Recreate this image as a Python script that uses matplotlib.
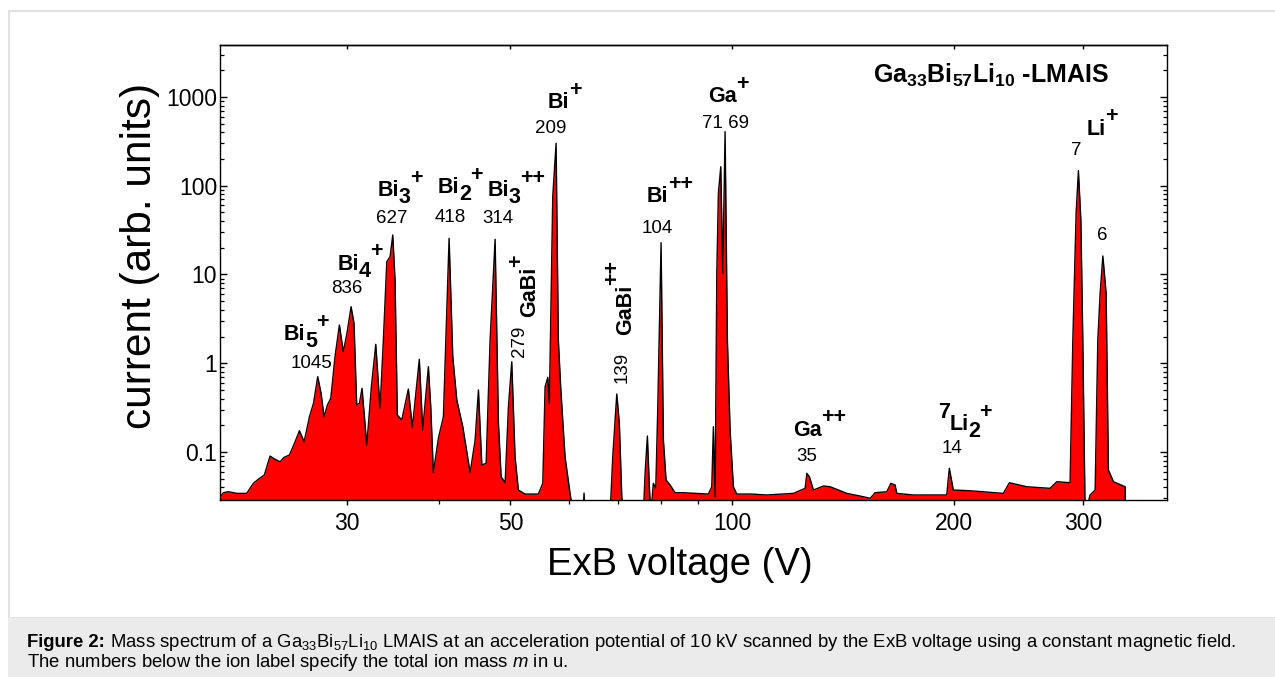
import matplotlib
matplotlib.use('Agg')
import matplotlib.pyplot as plt
from matplotlib.ticker import FixedLocator, FixedFormatter, NullFormatter, LogLocator, NullLocator
from matplotlib.patches import Rectangle
from matplotlib.transforms import ScaledTranslation

plt.rcParams['font.family'] = ['Liberation Sans', 'DejaVu Sans']
plt.rcParams['mathtext.fontset'] = 'custom'
plt.rcParams['mathtext.rm'] = 'Liberation Sans'
plt.rcParams['mathtext.it'] = 'Liberation Sans:italic'
plt.rcParams['mathtext.bf'] = 'Liberation Sans:bold'

# ---------------- data ----------------
voltage = [20.16, 20.37, 20.69, 21.25, 21.92, 22.38, 22.73, 23.16, 23.58, 23.95,
           24.33, 24.64, 25.05, 25.50, 25.85, 26.23, 26.67, 27.01, 27.37, 27.66,
           27.92, 28.21, 28.51, 28.89, 29.29, 29.65, 29.99, 30.38, 30.66, 30.92,
           31.18, 31.44, 31.91, 32.37, 32.82, 33.26, 33.61, 33.97, 34.32, 34.61,
           34.86, 35.11, 35.60, 36.34, 36.80, 37.61, 38.01, 38.69, 38.98, 39.30,
           39.92, 40.55, 41.28, 41.76, 42.29, 43.09, 44.09, 44.78, 45.25, 45.73,
           46.35, 46.93, 47.67, 48.17, 48.58, 49.19, 49.70, 50.22, 50.74, 51.27,
           52.36, 54.58, 55.34, 55.74, 56.21, 56.49, 57.09, 57.69, 58.10, 58.54,
           59.33, 60.27, 60.89, 62.76, 62.96, 63.16, 68.31, 68.88, 69.75, 70.32,
           70.85, 71.21, 75.81, 76.21, 76.76, 77.24, 77.58, 78.21, 78.80, 79.30,
           80.12, 80.70, 81.38, 82.41, 83.71, 85.91, 89.59, 92.90, 93.89, 94.36,
           94.87, 95.38, 95.85, 96.57, 97.18, 97.88, 98.59, 99.43, 100.46, 101.53,
           106.41, 111.52, 121.22, 125.73, 126.40, 127.44, 129.04, 133.15, 135.97, 143.27,
           149.36, 154.1, 156.5, 162.35, 164.4, 166.6, 167.5, 176.4, 195.8, 197.4,
           199.9, 210.6, 233.8, 238.2, 251.6, 270.5, 276.3, 288.0, 290.5, 293.5,
           295.6, 297.9, 299.7, 301.9, 306.6, 311.5, 314.1, 316.4, 319.1, 322.4,
           324.7, 329.9, 342.2, 342.5]

current = [0.0311, 0.0348, 0.0357, 0.0342, 0.0342, 0.0444, 0.0493, 0.0551, 0.0901, 0.0828,
           0.0777, 0.0872, 0.0925, 0.1306, 0.1738, 0.1306, 0.2498, 0.3538, 0.7057, 0.4585,
           0.2498, 0.3385, 0.4029, 1.185, 2.698, 1.349, 2.175, 4.337, 2.819, 0.3385,
           0.3538, 0.5222, 0.1199, 0.5444, 1.635, 0.3108, 1.828, 13.94, 15.87, 27.87,
           8.67, 0.2611, 0.2294, 0.5128, 0.1898, 1.108, 0.1770, 0.9144, 0.3239, 0.0585,
           0.1427, 0.2498, 25.58, 1.185, 0.3855, 0.1928, 0.0585, 0.1365, 0.4995, 0.0714,
           0.0746, 1.828, 24.92, 0.2106, 0.0527, 0.0451, 0.3239, 1.041, 0.0885, 0.0373,
           0.0336, 0.0336, 0.0444, 0.5444, 0.6947, 0.3538, 75.27, 300.9, 1.828, 0.5222,
           0.0885, 0.0342, 0.02, 0.02, 0.0345, 0.02, 0.02, 0.0885, 0.4502, 0.2106,
           0.0313, 0.02, 0.02, 0.0575, 0.1515, 0.0406, 0.02, 0.0444, 0.0390, 0.3239,
           22.82, 0.1365, 0.0484, 0.0425, 0.0348, 0.0348, 0.0342, 0.0336, 0.0406, 0.1928,
           0.0313, 10.31, 82.2, 163.9, 10.31, 406.4, 1.828, 0.1770, 0.0406, 0.0336,
           0.0336, 0.0328, 0.0342, 0.0390, 0.0575, 0.0527, 0.0373, 0.0414, 0.0406, 0.0342,
           0.0319, 0.0301, 0.0348, 0.0357, 0.0444, 0.0425, 0.0342, 0.0328, 0.0328, 0.0655,
           0.0373, 0.0366, 0.0342, 0.0451, 0.0406, 0.0390, 0.0463, 0.0451, 1.828, 48.93,
           147.7, 41.13, 1.828, 0.02, 0.0328, 0.0373, 1.828, 6.14, 16.16, 6.14,
           0.0627, 0.0463, 0.0406, 0.02]

x_ticks = [30, 50, 100, 200, 300]
x_tick_labels = ['30', '50', '100', '200', '300']
x_minor_ticks = [40, 60, 70, 80, 90]
y_ticks = [0.1, 1, 10, 100, 1000]
y_tick_labels = ['0.1', '1', '10', '100', '1000']

x_label = 'ExB voltage (V)'
y_label = 'current (arb. units)'
title_text = r'$\mathbf{Ga_{33}Bi_{57}Li_{10}}$ -LMAIS'
caption_bold = 'Figure 2:'
caption_line1 = (' Mass spectrum of a Ga$_{33}$Bi$_{57}$Li$_{10}$ LMAIS at an acceleration potential '
                 'of 10 kV scanned by the ExB voltage using a constant magnetic field.')
caption_line2 = 'The numbers below the ion label specify the total ion mass $m$ in u.'

# ion labels: pieces (text, vertical shift in pt), anchor in axes fraction
SUB, SUP = -5.0, 9.0
ion_labels = [
    ([('Bi', 0), ('5', SUB), ('+', SUP)], (0.0676, 0.3516), 0),
    ([('Bi', 0), ('4', SUB), ('+', SUP)], (0.1246, 0.5055), 0),
    ([('Bi', 0), ('3', SUB), ('+', SUP)], (0.1668, 0.6681), 0),
    ([('Bi', 0), ('2', SUB), ('+', SUP)], (0.2302, 0.6747), 0),
    ([('Bi', 0), ('3', SUB), ('++', SUP)], (0.2830, 0.6681), 0),
    ([('Bi', 0), ('+', SUP)], (0.3464, 0.8615), 0),
    ([('Bi', 0), ('++', SUP)], (0.4509, 0.6549), 0),
    ([('Ga', 0), ('+', SUP)], (0.5153, 0.8747), 0),
    ([('Ga', 0), ('++', SUP)], (0.6051, 0.1407), 0),
    ([('7', SUP), ('Li', 0), ('2', SUB), ('+', SUP)], (0.7582, 0.1538), 0),
    ([('Li', 0), ('+', SUP)], (0.9155, 0.8022), 0),
    ([('GaBi', 0), ('+', SUP)], (0.3326, 0.4022), 90),
    ([('GaBi', 0), ('++', SUP)], (0.4340, 0.3626), 90),
]
mass_labels = [
    ('1045', (0.0961, 0.2901), 0),
    ('836', (0.1341, 0.4549), 0),
    ('627', (0.1816, 0.6088), 0),
    ('418', (0.2429, 0.6110), 0),
    ('314', (0.2936, 0.6088), 0),
    ('209', (0.3495, 0.8066), 0),
    ('104', (0.4615, 0.5868), 0),
    ('71 69', (0.5333, 0.8176), 0),
    ('35', (0.6199, 0.0857), 0),
    ('14', (0.7730, 0.1033), 0),
    ('7', (0.9039, 0.7582), 0),
    ('6', (0.9314, 0.5714), 0),
    ('279', (0.3210, 0.3143), 90),
    ('139', (0.4298, 0.2571), 90),
]

# ---------------- figure ----------------
W, H = 1275, 677
fig = plt.figure(figsize=(W / 100, H / 100), dpi=100)
renderer = fig.canvas.get_renderer()

# page frame and caption band
fig.patches.append(Rectangle((9 / W, 59 / H), 1.0, (618 - 11) / H, transform=fig.transFigure,
                             fill=False, edgecolor='#e2e2e2', lw=1.5, zorder=0))
fig.patches.append(Rectangle((8 / W, 0), 1.0, 59 / H, transform=fig.transFigure,
                             facecolor='#ebebeb', edgecolor='none', zorder=0))

ax = fig.add_axes([220 / W, (H - 500) / H, (1167 - 220) / W, (500 - 45) / H])
ax.set_xscale('log')
ax.set_yscale('log')
ax.set_xlim(20.16, 390)
ax.set_ylim(0.0288, 3850)

ax.fill_between(voltage, current, 1e-4, color='#ff0000', lw=0, zorder=2)
ax.plot(voltage, current, color='black', lw=1.0, zorder=3, solid_joinstyle='round')

for s in ax.spines.values():
    s.set_linewidth(1.0)

ax.xaxis.set_major_locator(FixedLocator(x_ticks))
ax.xaxis.set_major_formatter(FixedFormatter(x_tick_labels))
ax.xaxis.set_minor_locator(FixedLocator(x_minor_ticks))
ax.xaxis.set_minor_formatter(NullFormatter())
ax.tick_params(axis='x', which='major', direction='out', length=3.5, width=1.0,
               labelsize=16.5, pad=5, top=False)
ax.tick_params(axis='x', which='minor', direction='out', length=3, width=0.9, top=False)

ax.yaxis.set_major_locator(FixedLocator(y_ticks))
ax.yaxis.set_major_formatter(FixedFormatter(y_tick_labels))
ax.yaxis.set_minor_locator(LogLocator(base=10, subs=range(2, 10), numticks=20))
ax.yaxis.set_minor_formatter(NullFormatter())
ax.tick_params(axis='y', which='major', direction='in', length=5, width=1.0,
               labelsize=16.5, pad=2, left=True, right=True)
ax.tick_params(axis='y', which='minor', direction='in', length=3, width=0.9,
               left=True, right=True)

sec = ax.secondary_xaxis('top')
sec.set_xticks(x_ticks)
sec.xaxis.set_minor_locator(NullLocator())
sec.tick_params(axis='x', which='major', direction='in', length=3, width=1.0, labeltop=False)
sec.spines['top'].set_linewidth(1.0)

fig.text(680 / W, (H - 575) / H, x_label, fontsize=27.5, ha='center', va='baseline')
fig.text(140 / W, (H - 256) / H, y_label, fontsize=30.5, ha='center', va='center', rotation=90)

ax.text(0.6895, 0.9165, title_text, transform=ax.transAxes, fontsize=18,
        fontweight='bold', ha='left', va='baseline')


def pieces_text(pieces, xf, yf, rotation, size, weight):
    off = 0.0
    for txt, dy in pieces:
        if rotation == 0:
            tr = ax.transAxes + ScaledTranslation(off / 72, dy / 72, fig.dpi_scale_trans)
        else:
            tr = ax.transAxes + ScaledTranslation(-dy / 72, off / 72, fig.dpi_scale_trans)
        t = ax.text(xf, yf, txt, transform=tr, fontsize=size, fontweight=weight,
                    ha='left', va='baseline', rotation=rotation, rotation_mode='anchor')
        bb = t.get_window_extent(renderer)
        off += (bb.width if rotation == 0 else bb.height) * 72 / fig.dpi - 0.5


for pieces, (xf, yf), rot in ion_labels:
    pieces_text(pieces, xf, yf, rot, 15.5, 'bold')

for txt, (xf, yf), rot in mass_labels:
    if rot == 0:
        ax.text(xf, yf, txt, transform=ax.transAxes, fontsize=13.5, ha='center', va='baseline')
    else:
        ax.text(xf, yf, txt, transform=ax.transAxes, fontsize=13.5, ha='left', va='baseline',
                rotation=90, rotation_mode='anchor')

# caption
cx, cy1, cy2 = 27 / W, (H - 647) / H, (H - 667) / H
tb = fig.text(cx, cy1, caption_bold, fontsize=13.3, fontweight='bold', ha='left', va='baseline')
bw = tb.get_window_extent(renderer).width / W
fig.text(cx + bw, cy1, caption_line1, fontsize=13.3, ha='left', va='baseline')
fig.text(cx, cy2, caption_line2, fontsize=13.3, ha='left', va='baseline')

fig.savefig('out.png', dpi=100)
